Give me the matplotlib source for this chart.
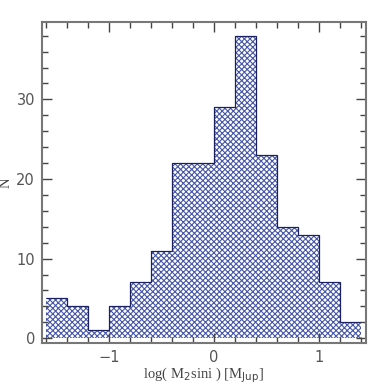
import matplotlib
matplotlib.use("Agg")
import matplotlib.pyplot as plt
import numpy as np
from matplotlib.ticker import MultipleLocator

bin_edges = [-1.6, -1.4, -1.2, -1.0, -0.8, -0.6, -0.4, -0.2, 0.0, 0.2, 0.4, 0.6, 0.8, 1.0, 1.2, 1.4]
counts = [5, 4, 1, 4, 7, 11, 22, 22, 29, 38, 23, 14, 13, 7, 2]
x_ticks = [-1, 0, 1]
x_tick_labels = ["\u22121", "0", "1"]
y_ticks = [0, 10, 20, 30]

plt.rcParams['hatch.linewidth'] = 0.8

fig = plt.figure(figsize=(3.88, 3.88), dpi=100)
ax = fig.add_axes([0.108, 0.116, 0.835, 0.827])

edges = np.array(bin_edges)
ax.bar(edges[:-1], counts, width=np.diff(edges), align='edge',
       facecolor='white', edgecolor='#4656a8', linewidth=0, hatch='xxxxxx')
ax.stairs(counts, edges, fill=False, color='#1a2060', linewidth=0.9, baseline=None)

ax.set_xlim(-1.64, 1.445)
ax.set_ylim(-0.6, 39.7)

ax.set_xticks(x_ticks)
ax.set_xticklabels(x_tick_labels)
ax.set_yticks(y_ticks)
ax.xaxis.set_minor_locator(MultipleLocator(0.2))
ax.yaxis.set_minor_locator(MultipleLocator(2))
ax.tick_params(which='both', direction='in', top=True, right=True, color='#444444',
               labelcolor='#555555', labelsize=10.5)
ax.tick_params(which='major', length=7, width=1)
ax.tick_params(axis='x', which='major', pad=5)
ax.tick_params(axis='y', which='major', pad=5)
ax.tick_params(which='minor', length=4, width=1)
for s in ax.spines.values():
    s.set_color('#777777')
    s.set_linewidth(1.5)

ax.set_xlabel(r"log( M$_2$sini ) [M$_{\rm Jup}$]", family='Liberation Serif', fontsize=10.5, color='#444444', labelpad=0)
ax.set_ylabel("N", family='Liberation Serif', fontsize=10.5, color='#444444', rotation=90,
              va='center', ha='center')
ax.yaxis.set_label_coords(-0.11, 0.5)

fig.savefig("out.png", dpi=100)
